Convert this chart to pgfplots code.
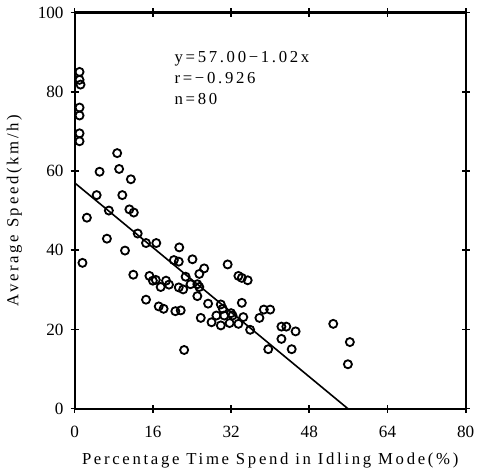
\documentclass[border=0pt]{standalone}
\usepackage{fontspec}
\setmainfont{Liberation Serif}
\newfontfamily\spaced[LetterSpace=16]{Liberation Serif}
\usepackage{pgfplots}
\pgfplotsset{compat=1.18}

\pgfplotstableread{
x y
1.0 85.0
1.0 83.0
1.2 81.8
1.0 76.0
1.0 74.0
1.0 69.5
1.0 67.5
1.6 36.8
2.5 48.2
4.5 53.9
5.1 59.8
7.0 50.0
8.7 64.5
9.1 60.5
9.75 53.9
11.5 57.9
11.2 50.3
12.1 49.5
6.6 42.9
10.3 39.9
12.9 44.2
14.6 41.8
16.7 41.8
12.0 33.8
14.6 27.5
15.3 33.5
16.6 32.5
17.6 30.7
18.7 32.3
19.3 31.3
17.2 25.8
18.2 25.2
20.6 24.6
21.7 24.8
21.4 40.7
20.3 37.5
21.3 37.1
24.1 37.7
21.3 30.6
22.2 30.1
22.7 33.3
23.7 31.4
25.1 31.4
25.5 30.7
25.5 34.0
26.5 35.4
25.1 28.4
27.3 26.5
25.8 22.9
22.4 14.8
28.0 21.8
29.9 26.3
30.3 25.2
29.0 23.5
30.6 23.5
29.9 21.0
31.3 36.4
32.0 24.1
32.3 23.5
31.7 21.6
33.5 21.4
33.5 33.5
34.2 33.0
35.4 32.4
34.2 26.7
34.5 23.1
35.9 19.9
37.8 22.9
38.7 25.0
40.0 25.0
39.6 15.0
42.3 20.7
43.3 20.7
45.2 19.5
42.3 17.6
44.4 15.0
52.9 21.4
56.3 16.8
55.9 11.2
16.0 32.3
}\speeddata

\pgfplotstableread{
x y
0 57.00
55.88 0
}\fitline

\begin{document}
\begin{tikzpicture}
\begin{axis}[
  scale only axis,
  width=194pt,
  height=196.5pt,
  xmin=0, xmax=80,
  ymin=0, ymax=100,
  xtick={0,16,32,48,64,80},
  ytick={0,20,40,60,80,100},
  tick align=center,
  major tick length=4pt,
  axis line style={line width=1pt},
  every tick/.style={black, line width=0.8pt},
  tick label style={font=\fontsize{8.5}{9}\selectfont},
  xticklabel style={yshift=-3pt},
  /pgf/number format/assume math mode=true,
  xlabel={Percentage Time Spend in Idling Mode(\%)},
  ylabel={Average Speed(km/h)},
  label style={font=\spaced\fontsize{8.3}{9}\selectfont},
  xlabel style={yshift=-1pt},
  ylabel style={yshift=1pt},
  clip=false,
]
\addplot[only marks, mark=o, mark size=2pt, mark options={line width=0.9pt, black}] table {\speeddata};
\addplot[black, line width=0.8pt] table {\fitline};
\node[anchor=north west, align=left, font=\spaced\fontsize{8.3}{10.5}\selectfont]
  at (axis cs:19,92) {y=57.00−1.02x\\r=−0.926\\n=80};
\end{axis}
\end{tikzpicture}
\end{document}
